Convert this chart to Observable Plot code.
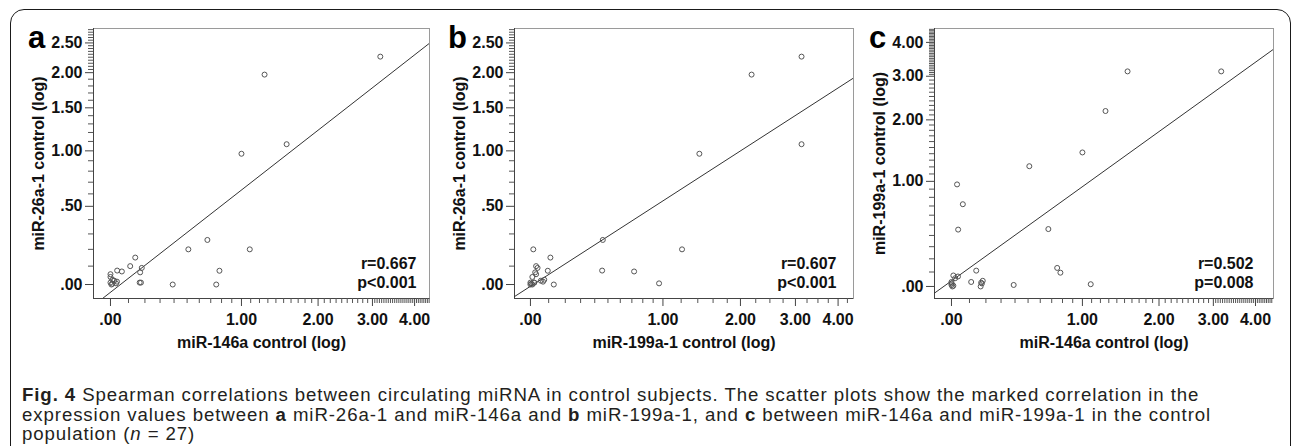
<!DOCTYPE html>
<html><head><meta charset="utf-8">
<script src="https://cdn.jsdelivr.net/npm/d3@7"></script>
<script src="https://cdn.jsdelivr.net/npm/@observablehq/plot@0.6"></script>
<style>
body{margin:0;background:#fff;}
#fig{position:relative;width:1292px;height:446px;overflow:hidden;background:#fff;}
#border{position:absolute;left:10px;top:9px;width:1281px;height:470px;border:1.5px solid #1a1a1a;border-radius:14px;box-sizing:border-box;}
.panel{position:absolute;top:0;}
#caption{position:absolute;left:22px;top:386px;font-family:"Liberation Sans",Arial,sans-serif;font-size:17.5px;line-height:19.5px;letter-spacing:0.85px;color:#231f20;white-space:nowrap;transform:scaleX(1.065);transform-origin:0 0;}
#caption div{height:19.5px;}
</style></head><body>
<div id="fig">
<div id="border"></div>
<div id="pa" class="panel" style="left:0px"></div>
<div id="pb" class="panel" style="left:430px"></div>
<div id="pc" class="panel" style="left:860px"></div>
<div id="caption"><div><b>Fig. 4</b> Spearman correlations between circulating miRNA in control subjects. The scatter plots show the marked correlation in the</div><div>expression values between <b>a</b> miR-26a-1 and miR-146a and <b>b</b> miR-199a-1, and <b>c</b> between miR-146a and miR-199a-1 in the control</div><div>population (<i>n</i> = 27)</div></div>
</div>
<script>
// ---- data: per-subject expression values (n = 27) ----
const mir146a  = [3.17,1.26,1.54,1.00,0.67,0.51,1.09,0.78,0.75,0.39,0.14,0.11,0.18,0.17,0.167,0.175,0.036,0.062,0.03,0.01,0.035,0.02,0.0,0.0,0.005,0.0,0.01];
const mir26a1  = [2.26,1.97,1.07,0.97,0.26,0.20,0.20,0.074,0.0,0.0,0.15,0.10,0.09,0.065,0.01,0.01,0.075,0.07,0.006,0.025,0.015,0.02,0.055,0.04,0.0,0.01,0.004];
const mir199a1 = [3.13,2.18,3.13,1.42,0.46,1.21,0.015,0.095,0.13,0.01,0.11,0.03,0.038,0.025,0.0,0.02,0.455,0.72,0.96,0.075,0.068,0.056,0.03,0.01,0.0,0.02,0.005];

const panelLetters = ["a","b","c"];
const xLabels = ["miR-146a control (log)","miR-199a-1 control (log)","miR-146a control (log)"];
const yLabels = ["miR-26a-1 control (log)","miR-26a-1 control (log)","miR-199a-1 control (log)"];
const rTexts = ["r=0.667","r=0.607","r=0.502"];
const pTexts = ["p<0.001","p<0.001","p=0.008"];
// fit lines in log10(1+v) space: slope, intercept
const fitSlopes = [0.765, 0.639, 0.896];
const fitIntercepts = [-0.0175, -0.004, 0.016];
const xTicks = [0,1,2,3,4];
const yTicksAB = [0,0.5,1,1.5,2,2.5];
const yTicksC = [0,1,2,3,4];

// ---- helpers ----
const fmt = d => d3.format(".2f")(d).replace(/^0\./, ".");
const fwd = v => v >= 0 ? Math.log10(1 + v) : -Math.log10(1 - v);
const inv = u => u >= 0 ? Math.pow(10, u) - 1 : -(Math.pow(10, -u) - 1);
function steps(a, b, s) { const out = []; for (let v = a; v <= b + 1e-9; v += s) out.push(Math.round(v * 1000) / 1000); return out; }
function minor(list, majors) { return list.filter(v => !majors.some(m => Math.abs(m - v) < 1e-6)); }

const layouts = [
  {el:"#pa", width:430, ml:93, mr:1,  xDomain:[-0.094,4.41], yDomain:[-0.0752,2.772], sdx:-13,
   xMinor: minor([...steps(0.1,2,0.1),...steps(2.1,3,0.1),...steps(3.05,4.4,0.05)], xTicks),
   yMinor: minor([...steps(0.1,2,0.1),...steps(2.05,2.75,0.05)], yTicksAB), yTicks: yTicksAB},
  {el:"#pb", width:430, ml:84, mr:7,  xDomain:[-0.087,4.42], yDomain:[-0.0752,2.772], sdx:-17,
   xMinor: minor([...steps(0.1,1,0.1),...steps(1.2,2,0.2),...steps(2.25,4.25,0.25)], xTicks),
   yMinor: minor([...steps(0.1,2,0.1),...steps(2.05,2.75,0.05)], yTicksAB), yTicks: yTicksAB},
  {el:"#pc", width:432, ml:74, mr:19, xDomain:[-0.094,4.50], yDomain:[-0.0826,4.48], sdx:-20,
   xMinor: minor([...steps(0.1,2,0.1),...steps(2.1,3,0.1),...steps(3.05,4.45,0.05)], xTicks),
   yMinor: minor([...steps(0.1,3,0.1),...steps(3.05,4.45,0.05)], yTicksC), yTicks: yTicksC}
];
const pairs = [[mir146a, mir26a1],[mir199a1, mir26a1],[mir146a, mir199a1]];

pairs.forEach(([xs, ys], i) => {
  const L = layouts[i];
  const data = xs.map((x, k) => ({x, y: ys[k]}));
  const [x0, x1] = L.xDomain;
  const fit = [x0, x1].map(x => ({x, y: inv(fitSlopes[i] * fwd(x) + fitIntercepts[i])}));
  const txt = {fontSize: 16, fontWeight: "bold", fill: "#111", text: d => d};
  const chart = Plot.plot({
    width: L.width, height: 360,
    marginLeft: L.ml, marginRight: L.mr, marginTop: 28, marginBottom: 62,
    style: {fontFamily: "'Liberation Sans', Arial, sans-serif", fontSize: "16px", fontWeight: "bold", color: "#111", background: "transparent", overflow: "visible"},
    x: {type: "symlog", constant: 1, domain: L.xDomain},
    y: {type: "symlog", constant: 1, domain: L.yDomain},
    marks: [
      Plot.frame({stroke: "#9a9a9a"}),
      Plot.ruleX([x0], {stroke: "#444"}),
      Plot.ruleY([L.yDomain[0]], {stroke: "#444"}),
      Plot.axisX(L.xMinor, {tickSize: 5, tickFormat: () => "", stroke: "#555", label: null}),
      Plot.axisX(xTicks, {tickSize: 8, tickPadding: 7, tickFormat: fmt, stroke: "#444", label: null, fontSize: 16, fontWeight: "bold"}),
      Plot.axisY(L.yMinor, {tickSize: 5, tickFormat: () => "", stroke: "#555", label: null}),
      Plot.axisY(L.yTicks, {tickSize: 8, tickPadding: 3, tickFormat: fmt, stroke: "#444", label: null, fontSize: 16, fontWeight: "bold"}),
      Plot.line(fit, {x: "x", y: "y", stroke: "#333", strokeWidth: 1, clip: true}),
      Plot.dot(data, {x: "x", y: "y", r: 2.5, stroke: "#555", strokeWidth: 1, fill: "none"}),
      Plot.text([rTexts[i]], {...txt, frameAnchor: "bottom-right", textAnchor: "end", lineAnchor: "middle", dx: L.sdx, dy: -35}),
      Plot.text([pTexts[i]], {...txt, frameAnchor: "bottom-right", textAnchor: "end", lineAnchor: "middle", dx: L.sdx, dy: -16}),
      Plot.text([xLabels[i]], {...txt, frameAnchor: "bottom", textAnchor: "middle", lineAnchor: "middle", dy: 44}),
      Plot.text([yLabels[i]], {...txt, frameAnchor: "left", textAnchor: "middle", lineAnchor: "middle", rotate: -90, dx: -55}),
      Plot.text([panelLetters[i]], {...txt, fontSize: 31, frameAnchor: "top-left", textAnchor: "middle", lineAnchor: "middle", dx: -57, dy: 10, fill: "#000"})
    ]
  });
  document.querySelector(L.el).appendChild(chart);
});
</script>
</body></html>
